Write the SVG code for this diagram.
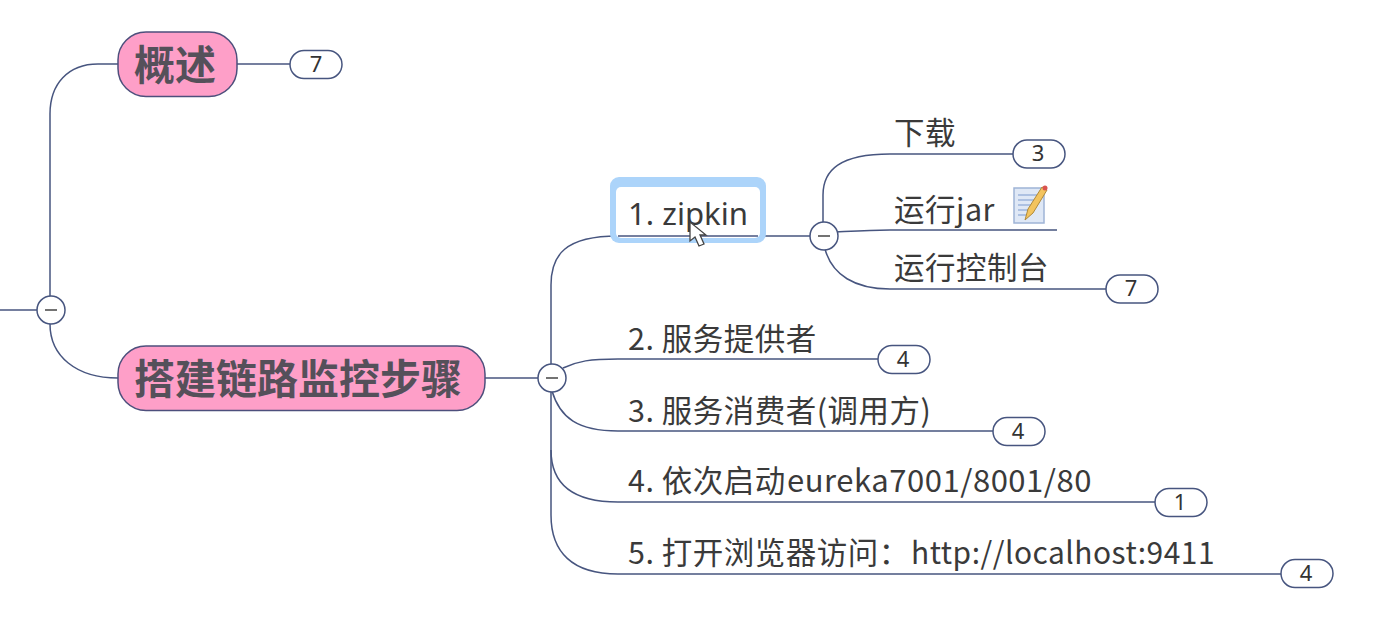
<svg xmlns="http://www.w3.org/2000/svg" width="1389" height="640" viewBox="0 0 1389 640">
<style>
.c{fill:none;stroke:#47557f;stroke-width:1.5}
.t{font-family:"Noto Sans CJK SC","Noto Sans",sans-serif;font-size:30.5px;fill:#3a3a3a;letter-spacing:.5px}
.l{font-family:"Noto Sans","Noto Sans CJK SC",sans-serif;font-size:30.5px;fill:#3a3a3a}
.m{font-family:"Noto Sans CJK SC","Noto Sans",sans-serif;font-weight:700;font-size:41px;fill:#55505a}
.p{fill:#fe9fc8;stroke:#4d4f7c;stroke-width:1.5}
.b{fill:#fff;stroke:#47557f;stroke-width:1.5}
.n{font-family:"Noto Sans",sans-serif;font-size:22px;fill:#333;text-anchor:middle}
.k{fill:#fff;stroke:#47557f;stroke-width:1.5}
.d{stroke:#444;stroke-width:1.5}
</style>
<rect width="1389" height="640" fill="#fff"/>
<g id="connectors">
<path class="c" d="M0 310H37"/>
<path class="c" d="M118 64H98C68 64 50 84 50 114V297"/>
<path class="c" d="M50 324C50 356 76 378 118 378"/>
<path class="c" d="M237 64H290"/>
<path class="c" d="M485 378H538"/>
<path class="c" d="M551 365V285C551 255 565 236 618 236H810"/>
<path class="c" d="M563 368C578 361 590 359 618 359H878"/>
<path class="c" d="M552 391C560 418 578 431 618 431H993"/>
<path class="c" d="M551 391V450C551 482 570 502 618 502H1156"/>
<path class="c" d="M551 450V515C551 552 572 574 618 574H1281"/>
<path class="c" d="M823 222V195C823 170 840 154 890 154H1013"/>
<path class="c" d="M836 232C855 231 870 230 890 230H1057"/>
<path class="c" d="M825 249C832 275 855 289 890 289H1106"/>
</g>
<g id="node-gaishu"><rect class="p" x="118" y="32" width="119" height="64.500" rx="28"/><text class="m" x="134" y="80">概述</text></g>
<g id="node-dajian"><rect class="p" x="118" y="346" width="367" height="64.500" rx="28"/><text class="m" x="134" y="394">搭建链路监控步骤</text></g>
<g id="toggle-root"><circle class="k" cx="51" cy="310" r="14"/><path class="d" d="M45 310H57"/></g>
<g id="badge-gaishu"><rect class="b" x="290" y="50.500" width="52" height="28" rx="14"/><text class="n" x="316" y="72">7</text></g>
<g id="toggle-dajian"><circle class="k" cx="552" cy="378" r="14"/><path class="d" d="M546 378H558"/></g>
<g id="node-zipkin"><rect x="610" y="177" width="156" height="66" rx="9" fill="#acd4fa"/><rect x="616" y="187" width="144" height="51" rx="5" fill="#fff"/><path class="c" d="M618 236H758"/><text class="l" x="628" y="225" textLength="120" lengthAdjust="spacingAndGlyphs">1. zipkin</text><path d="M690 222V241L695 237L699 246L704 244L700 235L706 235Z" fill="#fff" stroke="#444" stroke-width="1.300"/></g>
<g id="toggle-zipkin"><circle class="k" cx="824" cy="236" r="14"/><path class="d" d="M818 236H830"/></g>
<g id="node-download"><text class="t" x="894" y="144">下载</text></g>
<g id="badge-download"><rect class="b" x="1013" y="140" width="52" height="28" rx="14"/><text class="n" x="1038" y="161">3</text></g>
<g id="node-runjar"><text class="t" x="894" y="221">运行jar</text>
<rect x="1014" y="188" width="30" height="35" fill="#dfe8f6" stroke="#9fb4d6" stroke-width="1.500"/>
<path d="M1018 195H1040M1018 200H1040M1018 205H1036M1018 210H1032M1018 215H1030" stroke="#9db4dc" stroke-width="1.500"/>
<path d="M1025 220L1028 209L1042 187L1047 190L1033 213Z" fill="#f3c45f" stroke="#b08a3a" stroke-width="1"/>
<circle cx="1045" cy="188" r="2.500" fill="#d9534f"/></g>
<g id="node-console"><text class="t" x="894" y="279">运行控制台</text></g>
<g id="badge-console"><rect class="b" x="1106" y="275" width="52" height="28" rx="14"/><text class="n" x="1131" y="296">7</text></g>
<g id="node-provider"><text class="t" x="628" y="350">2. 服务提供者</text></g>
<g id="badge-provider"><rect class="b" x="878" y="345.500" width="52" height="28" rx="14"/><text class="n" x="903" y="367">4</text></g>
<g id="node-consumer"><text class="t" x="628" y="422">3. 服务消费者(调用方)</text></g>
<g id="badge-consumer"><rect class="b" x="993" y="417.500" width="52" height="28" rx="14"/><text class="n" x="1018" y="439">4</text></g>
<g id="node-start"><text class="t" x="628" y="492">4. 依次启动<tspan x="787" textLength="305" lengthAdjust="spacingAndGlyphs">eureka7001/8001/80</tspan></text></g>
<g id="badge-start"><rect class="b" x="1155" y="488.500" width="52" height="28" rx="14"/><text class="n" x="1180" y="510">1</text></g>
<g id="node-browser"><text class="t" x="628" y="564">5. 打开浏览器访问：<tspan x="911" textLength="304" lengthAdjust="spacingAndGlyphs">http://localhost:9411</tspan></text></g>
<g id="badge-browser"><rect class="b" x="1281" y="559.500" width="52" height="28" rx="14"/><text class="n" x="1306" y="581">4</text></g>
</svg>
